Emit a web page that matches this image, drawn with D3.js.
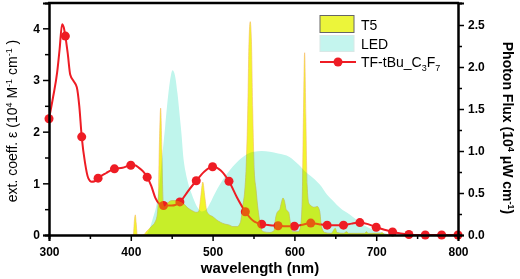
<!DOCTYPE html>
<html>
<head>
<meta charset="utf-8">
<script src="https://cdn.jsdelivr.net/npm/d3@7"></script>
<style>
  body { margin: 0; background: #fff; }
  svg { display: block; font-family: "Liberation Sans", Arial, sans-serif; }
</style>
</head>
<body>
<svg width="520" height="279"></svg>
<script>
// ext. coefficient of TF-tBu_C3F7 (left axis, 10^4 M-1 cm-1)
var absNm  = [300, 305, 310, 313, 316, 318, 320, 323, 326, 330, 334, 337, 340, 344, 348, 352, 356, 360, 370, 380, 390, 400, 405, 410, 415, 420, 425, 430, 435, 440, 450, 460, 470, 480, 490, 500, 510, 520, 530, 540, 550, 560, 570, 580, 590, 600, 610, 620, 630, 640, 650, 660, 670, 680, 690, 700, 710, 720, 730, 740, 750, 760, 770, 780, 790, 800];
var absVal = [2.25, 2.67, 3.15, 3.6, 4.08, 4.02, 3.85, 3.5, 3.1, 2.98, 2.86, 2.5, 1.9, 1.4, 1.1, 1.03, 1.04, 1.1, 1.2, 1.28, 1.3, 1.35, 1.35, 1.3, 1.23, 1.12, 0.95, 0.72, 0.6, 0.57, 0.57, 0.64, 0.85, 1.05, 1.23, 1.32, 1.25, 1.04, 0.72, 0.45, 0.27, 0.21, 0.19, 0.18, 0.17, 0.17, 0.2, 0.23, 0.21, 0.19, 0.19, 0.19, 0.22, 0.24, 0.21, 0.15, 0.1, 0.06, 0.03, 0.01, 0, 0, 0, 0, 0, 0];

// T5 lamp photon flux (right axis)
var t5Nm  = [400, 403, 404.5, 405.5, 406.5, 408, 415, 420, 425, 430, 432, 433.5, 435, 436.5, 438, 439.5, 441, 445, 450, 455, 460, 465, 470, 475, 480, 483, 485.5, 488, 490.5, 493, 496, 500, 505, 510, 515, 520, 525, 530, 534, 537, 539.5, 541, 543, 544.5, 546, 547.5, 549, 551, 553, 555, 557, 559, 562, 570, 575, 577, 579, 582, 584, 586, 588, 590, 593, 595, 598, 605, 607.5, 609.5, 611, 612.5, 614, 615.5, 617.5, 620, 624, 628, 631, 633, 637, 645, 650, 652, 660, 664, 666, 686, 688, 690, 705, 707, 710, 720];
var t5Val = [0, 0, 0.18, 0.24, 0.15, 0, 0, 0.05, 0.1, 0.16, 0.22, 0.4, 1.1, 1.51, 1.0, 0.4, 0.34, 0.38, 0.41, 0.41, 0.4, 0.37, 0.32, 0.29, 0.27, 0.28, 0.45, 0.63, 0.45, 0.28, 0.24, 0.22, 0.18, 0.15, 0.13, 0.12, 0.1, 0.1, 0.15, 0.35, 0.55, 0.8, 1.5, 2.3, 2.54, 2.3, 1.5, 0.75, 0.55, 0.35, 0.2, 0.08, 0.04, 0.03, 0.05, 0.2, 0.27, 0.3, 0.38, 0.44, 0.4, 0.3, 0.27, 0.15, 0.04, 0.04, 0.1, 0.4, 1.4, 2.17, 1.4, 0.6, 0.38, 0.35, 0.33, 0.34, 0.28, 0.1, 0.03, 0.02, 0.08, 0.03, 0.02, 0.04, 0.02, 0.02, 0.04, 0.02, 0.02, 0.03, 0.01, 0];

// LED photon flux (right axis)
var ledNm  = [410, 418, 423, 427, 431, 435, 438, 442, 446, 449, 451, 454, 457, 460, 462, 464, 467, 470, 474, 478, 482, 487, 492, 497, 502, 510, 520, 530, 540, 550, 560, 570, 580, 594, 605, 615, 625, 631, 640, 648, 656, 668, 680, 690, 700, 710, 720];
var ledVal = [0, 0, 0.08, 0.2, 0.34, 0.6, 0.9, 1.29, 1.69, 1.9, 1.96, 1.9, 1.69, 1.4, 1.2, 0.95, 0.75, 0.62, 0.5, 0.4, 0.32, 0.28, 0.3, 0.38, 0.48, 0.62, 0.76, 0.87, 0.95, 0.99, 1.0, 0.99, 0.97, 0.93, 0.84, 0.74, 0.66, 0.6, 0.48, 0.4, 0.32, 0.24, 0.15, 0.09, 0.05, 0.02, 0];

var xMajor = [300, 400, 500, 600, 700, 800],
    xMinor = [350, 450, 550, 650, 750],
    yLeftMajor = [0, 1, 2, 3, 4],
    yLeftMinor = [0.5, 1.5, 2.5, 3.5],
    yRightMajor = [0, 0.5, 1, 1.5, 2, 2.5],
    yRightMinor = [0.25, 0.75, 1.25, 1.75, 2.25];

var svg = d3.select("svg"),
    margin = {top: 3, right: 62, bottom: 44, left: 49},
    width = +svg.attr("width") - margin.left - margin.right,
    height = +svg.attr("height") - margin.top - margin.bottom;

var g = svg.append("g").attr("transform", "translate(" + margin.left + "," + margin.top + ")");

var x = d3.scaleLinear().domain([300, 800]).range([0, width]),
    yL = d3.scaleLinear().domain([0, 4.49]).range([height, 0]),
    yR = d3.scaleLinear().domain([0, 2.762]).range([height, 0]);

var absData = absNm.map(function(d, i) { return [d, absVal[i]]; }),
    t5Data = t5Nm.map(function(d, i) { return [d, t5Val[i]]; }),
    ledData = ledNm.map(function(d, i) { return [d, ledVal[i]]; });

var areaR = d3.area()
    .x(function(d) { return x(d[0]); })
    .y0(height)
    .y1(function(d) { return yR(d[1]); })
    .curve(d3.curveMonotoneX);

// LED spectrum, lowest layer
g.append("path")
    .datum(ledData)
    .attr("d", areaR)
    .attr("fill", "#bff5ec");

// absorption line with markers every 20 nm
var line = d3.line()
    .x(function(d) { return x(d[0]); })
    .y(function(d) { return yL(d[1]); })
    .curve(d3.curveMonotoneX);

g.append("path")
    .datum(absData)
    .attr("d", line)
    .attr("fill", "none")
    .attr("stroke", "#ee1c24")
    .attr("stroke-width", 2);

g.selectAll(".dot")
    .data(absData.filter(function(d) { return d[0] % 20 == 0; }))
  .enter().append("circle")
    .attr("class", "dot")
    .attr("cx", function(d) { return x(d[0]); })
    .attr("cy", function(d) { return yL(d[1]); })
    .attr("r", 4.5)
    .attr("fill", "#ee1c24");

// T5 spectrum on top, multiplied so it turns lime over the LED
g.append("path")
    .datum(t5Data)
    .attr("d", areaR)
    .attr("fill", "#f2f52c")
    .attr("stroke", "#f7b468")
    .attr("stroke-width", 0.6)
    .style("mix-blend-mode", "multiply");

g.append("path")
    .datum(t5Data)
    .attr("d", areaR)
    .attr("fill", "#f2f52c")
    .attr("opacity", 0.3);

// axes
g.append("g").attr("transform", "translate(0," + height + ")")
    .call(d3.axisBottom(x).tickValues(xMajor).tickSize(6).tickPadding(6).tickFormat(d3.format("d")));
g.append("g").attr("transform", "translate(0," + height + ")")
    .call(d3.axisBottom(x).tickValues(xMinor).tickSize(4).tickFormat(""));

g.append("g")
    .call(d3.axisLeft(yL).tickValues(yLeftMajor).tickSize(6).tickPadding(3).tickFormat(d3.format("d")));
g.append("g")
    .call(d3.axisLeft(yL).tickValues(yLeftMinor).tickSize(4).tickFormat(""));

g.append("g").attr("transform", "translate(" + width + ",0)")
    .call(d3.axisRight(yR).tickValues(yRightMajor).tickSize(6).tickPadding(4).tickFormat(d3.format(".1f")));
g.append("g").attr("transform", "translate(" + width + ",0)")
    .call(d3.axisRight(yR).tickValues(yRightMinor).tickSize(4).tickFormat(""));

g.selectAll(".domain").attr("stroke", "#000").attr("stroke-width", 2);
g.selectAll(".tick line").attr("stroke", "#000").attr("stroke-width", 1.5);
g.selectAll(".tick text")
    .attr("font-family", "'Liberation Sans', Arial, sans-serif")
    .attr("font-size", 12)
    .attr("font-weight", "bold")
    .attr("fill", "#000");

// top frame line
g.append("line")
    .attr("x1", -1).attr("x2", width + 1)
    .attr("y1", 0).attr("y2", 0)
    .attr("stroke", "#000")
    .attr("stroke-width", 2.5);

// axis titles
svg.append("text")
    .attr("x", 260)
    .attr("y", 273)
    .attr("text-anchor", "middle")
    .attr("font-size", 15)
    .attr("font-weight", "bold")
    .text("wavelength (nm)");

var tL = svg.append("text")
    .attr("transform", "translate(17,121) rotate(-90)")
    .attr("text-anchor", "middle")
    .attr("font-size", 14);
tL.append("tspan").text("ext. coeff. ε (10");
tL.append("tspan").attr("dy", -5).attr("font-size", 9).text("4");
tL.append("tspan").attr("dy", 5).text(" M");
tL.append("tspan").attr("dy", -5).attr("font-size", 9).text("-1");
tL.append("tspan").attr("dy", 5).text(" cm");
tL.append("tspan").attr("dy", -5).attr("font-size", 9).text("-1");
tL.append("tspan").attr("dy", 5).text(" )");

var tR = svg.append("text")
    .attr("transform", "translate(503,128) rotate(90)")
    .attr("text-anchor", "middle")
    .attr("font-size", 14)
    .attr("font-weight", "bold");
tR.append("tspan").text("Photon Flux (10");
tR.append("tspan").attr("dy", -5).attr("font-size", 9).text("4");
tR.append("tspan").attr("dy", 5).text(" μW cm");
tR.append("tspan").attr("dy", -5).attr("font-size", 9).text("-1");
tR.append("tspan").attr("dy", 5).text(")");

// legend
var leg = svg.append("g");
leg.append("rect").attr("x", 320).attr("y", 15.5).attr("width", 34).attr("height", 17)
    .attr("fill", "#ecf53a").attr("stroke", "#666").attr("stroke-width", 1);
leg.append("rect").attr("x", 320).attr("y", 35.5).attr("width", 34).attr("height", 16)
    .attr("fill", "#c4f5ee").attr("stroke", "#d8e8e6").attr("stroke-width", 1);
leg.append("line").attr("x1", 320).attr("x2", 356).attr("y1", 62).attr("y2", 62)
    .attr("stroke", "#ee1c24").attr("stroke-width", 2);
leg.append("circle").attr("cx", 338).attr("cy", 62).attr("r", 4.5).attr("fill", "#ee1c24");

leg.append("text").attr("x", 361).attr("y", 30).attr("font-size", 14).text("T5");
leg.append("text").attr("x", 361).attr("y", 49).attr("font-size", 14).text("LED");
var tf = leg.append("text").attr("x", 361).attr("y", 67).attr("font-size", 14);
tf.append("tspan").text("TF-tBu_C");
tf.append("tspan").attr("dy", 4).attr("font-size", 9).text("3");
tf.append("tspan").attr("dy", -4).text("F");
tf.append("tspan").attr("dy", 4).attr("font-size", 9).text("7");
</script>
</body>
</html>
